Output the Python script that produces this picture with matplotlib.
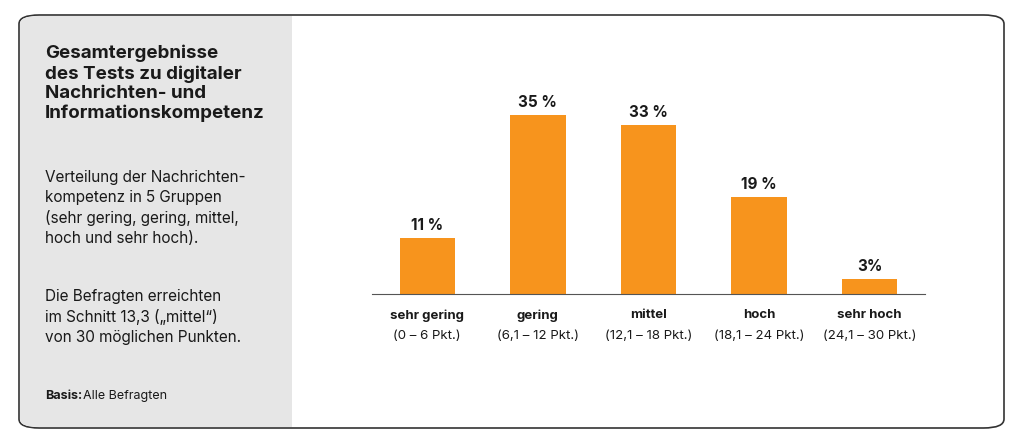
import matplotlib
matplotlib.use("Agg")
import matplotlib.pyplot as plt
from matplotlib.patches import FancyBboxPatch, Rectangle

categories = ["sehr gering", "gering", "mittel", "hoch", "sehr hoch"]
ranges = ["(0 – 6 Pkt.)", "(6,1 – 12 Pkt.)", "(12,1 – 18 Pkt.)", "(18,1 – 24 Pkt.)", "(24,1 – 30 Pkt.)"]
values = [11, 35, 33, 19, 3]
value_labels = ["11 %", "35 %", "33 %", "19 %", "3%"]

W, H = 1024, 448
fig = plt.figure(figsize=(W/100, H/100), dpi=100)
fig.patch.set_facecolor("white")
plt.rcParams["font.family"] = "Inter"

def fx(x): return x / W
def fy(y): return 1 - y / H

box = FancyBboxPatch((fx(19), fy(428)), fx(985), (428-15)/H,
                     boxstyle="round,pad=0,rounding_size=0.02",
                     transform=fig.transFigure, fc="white", ec="#333333", lw=1.2, zorder=-3)
fig.add_artist(box)
panel = FancyBboxPatch((fx(20), fy(427)), fx(272), (427-16)/H,
                       boxstyle="round,pad=0,rounding_size=0.018",
                       transform=fig.transFigure, fc="#e6e6e6", ec="none", zorder=-2)
fig.add_artist(panel)
fig.add_artist(Rectangle((fx(200), fy(427)), fx(92), (427-16)/H,
                         transform=fig.transFigure, fc="#e6e6e6", ec="none", zorder=-2))

fig.text(fx(45), fy(45), "Gesamtergebnisse\ndes Tests zu digitaler\nNachrichten- und\nInformationskompetenz",
         ha="left", va="top", fontsize=13.5, fontweight="bold", color="#1a1a1a", linespacing=1.2)
fig.text(fx(45), fy(170), "Verteilung der Nachrichten-\nkompetenz in 5 Gruppen\n(sehr gering, gering, mittel,\nhoch und sehr hoch).",
         ha="left", va="top", fontsize=11, color="#1a1a1a", linespacing=1.4)
fig.text(fx(45), fy(289), "Die Befragten erreichten\nim Schnitt 13,3 („mittel“)\nvon 30 möglichen Punkten.",
         ha="left", va="top", fontsize=11, color="#1a1a1a", linespacing=1.4)
fig.text(fx(45), fy(396), "Basis:", ha="left", va="center", fontsize=9, fontweight="bold", color="#1a1a1a")
fig.text(fx(83), fy(396), "Alle Befragten", ha="left", va="center", fontsize=9, color="#1a1a1a")

ax = fig.add_axes([fx(372), fy(294), 553/W, 234/H], zorder=5)
ax.patch.set_visible(False)
x = list(range(len(values)))
ax.bar(x, values, width=0.5, color="#F7941D")
ax.set_xlim(-0.5, 4.5)
ax.set_ylim(0, 234/5.11)
for s in ["top", "right", "left"]:
    ax.spines[s].set_visible(False)
ax.spines["bottom"].set_color("#555555")
ax.set_yticks([])
ax.set_xticks([])
for i, v in enumerate(values):
    ax.text(i, v + 1.0, value_labels[i], ha="center", va="bottom", fontsize=11, fontweight="bold", color="#1a1a1a")
    ax.text(i, -3.0, categories[i], ha="center", va="top", fontsize=9.5, fontweight="bold", color="#1a1a1a")
    ax.text(i, -7.0, ranges[i], ha="center", va="top", fontsize=9.5, color="#1a1a1a")

fig.savefig("out.png", dpi=100)
